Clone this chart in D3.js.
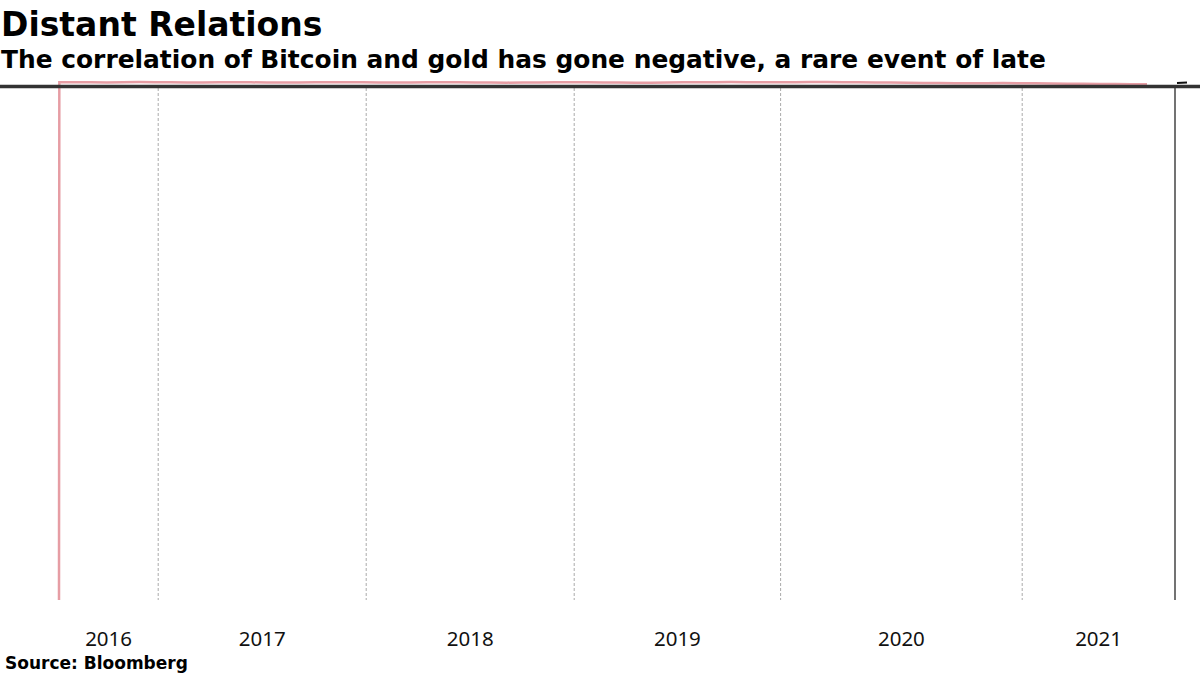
<!DOCTYPE html>
<html>
<head>
<meta charset="utf-8">
<script src="https://cdn.jsdelivr.net/npm/d3@7"></script>
<style>
  body { margin: 0; background: #fff; }
  svg { display: block; }
</style>
</head>
<body>
<svg id="chart" width="1200" height="675"></svg>
<script>
// Bitcoin / gold correlation on a period-index x axis
// the first reading is a bad print that blows out the y range
const corrPeriods = [
    0, 0.02, 1, 2, 3, 4, 5, 6, 7, 8, 9,
    10, 11, 12, 13, 14, 15, 16, 17, 18, 19,
    20, 21, 22, 23, 24, 25, 26, 27, 28, 29,
    30, 31, 32, 33, 34, 35, 36, 37, 38, 39,
    40, 41, 42, 43, 44, 45, 46, 47, 48, 49,
    50, 51, 52, 53, 54, 55, 56, 57, 58, 59,
    60, 61, 62, 63, 64, 65, 66, 67, 68
];
const corrValues = [
    -130, 0.42, 0.45, 0.40, 0.38, 0.44, 0.47, 0.43, 0.40, 0.36, 0.39,
    0.42, 0.45, 0.41, 0.37, 0.35, 0.38, 0.42, 0.46, 0.44, 0.40,
    0.37, 0.34, 0.36, 0.40, 0.43, 0.41, 0.38, 0.35, 0.33, 0.36,
    0.39, 0.42, 0.44, 0.41, 0.37, 0.34, 0.30, 0.33, 0.37, 0.40,
    0.43, 0.46, 0.48, 0.45, 0.42, 0.40, 0.44, 0.47, 0.50, 0.46,
    0.42, 0.38, 0.34, 0.30, 0.26, 0.22, 0.18, 0.15, 0.20, 0.24,
    0.20, 0.16, 0.12, 0.08, 0.05, 0.02, -0.02, -0.05, -0.08
];
const periodCount = 69.75;                 // length of the x domain in periods
const yearLabels = ["2016", "2017", "2018", "2019", "2020", "2021"];
const yearStarts = [0, 6.2, 19.2, 32.2, 45.1, 60.2];   // period index where each year begins
const yDomain = [-130, 1.5];

const svg = d3.select("#chart");
const width = 1200, height = 675;
const margin = { top: 78, right: 25, bottom: 75, left: 59 };

const x = d3.scaleLinear().domain([0, periodCount]).range([margin.left, width - margin.right]);
const y = d3.scaleLinear().domain(yDomain).range([height - margin.bottom, margin.top]);

// titles
svg.append("text").attr("x", 1).attr("y", 36)
    .style("font-family", "DejaVu Sans").style("font-weight", "bold").style("font-size", "33px")
    .text("Distant Relations");
svg.append("text").attr("x", 1).attr("y", 68)
    .style("font-family", "DejaVu Sans").style("font-weight", "bold").style("font-size", "24.9px")
    .text("The correlation of Bitcoin and gold has gone negative, a rare event of late");

// dotted year separators
svg.append("g").selectAll("line")
    .data(yearStarts.slice(1))
    .enter().append("line")
    .attr("x1", d => x(d)).attr("x2", d => x(d))
    .attr("y1", 88).attr("y2", height - margin.bottom)
    .attr("stroke", "#aaa").attr("stroke-width", 1).attr("stroke-dasharray", "3,2");

// year labels centred in each year's span
const yearEnds = yearStarts.slice(1).concat([periodCount]);
svg.append("g").selectAll("text")
    .data(yearLabels)
    .enter().append("text")
    .attr("x", (d, i) => x((yearStarts[i] + yearEnds[i]) / 2))
    .attr("y", 646)
    .attr("text-anchor", "middle")
    .style("font-family", "Noto Sans").style("font-size", "20.5px").style("fill", "#111")
    .text(d => d);

// right-hand axis line
svg.append("line")
    .attr("x1", x(periodCount)).attr("x2", x(periodCount))
    .attr("y1", 86).attr("y2", height - margin.bottom)
    .attr("stroke", "#444").attr("stroke-width", 1.5);

// correlation line
svg.append("path")
    .datum(corrValues)
    .attr("fill", "none")
    .attr("stroke", "#e0848d")
    .attr("stroke-width", 2.5)
    .attr("stroke-opacity", 0.8)
    .attr("d", d3.line().x((d, i) => x(corrPeriods[i])).y(d => y(d)));

// dark rule under the header
svg.append("line")
    .attr("x1", 0).attr("x2", width)
    .attr("y1", 86.5).attr("y2", 86.5)
    .attr("stroke", "#333").attr("stroke-width", 3.5);

// squashed axis labels at top right
svg.append("line")
    .attr("x1", x(periodCount) + 2).attr("x2", x(periodCount) + 12)
    .attr("y1", 83).attr("y2", 82.5)
    .attr("stroke", "#111").attr("stroke-width", 2);

// source
svg.append("text").attr("x", 5).attr("y", 669)
    .style("font-family", "DejaVu Sans").style("font-weight", "bold").style("font-size", "17px")
    .text("Source:  Bloomberg");
</script>
</body>
</html>
